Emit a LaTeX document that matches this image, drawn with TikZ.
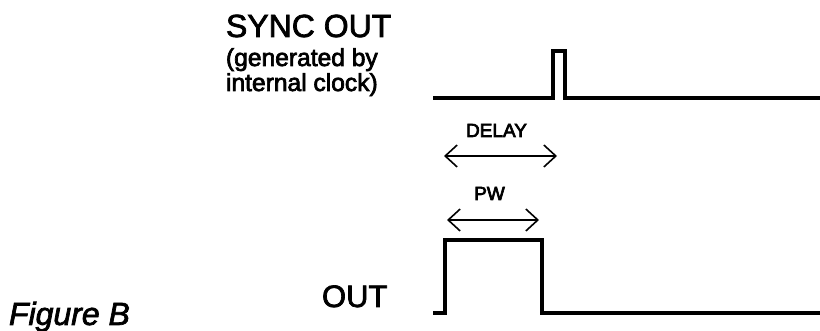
\documentclass[tikz,border=0pt]{standalone}
\usepackage{fontspec}
\setmainfont{Liberation Sans}
\usetikzlibrary{arrows.meta}
\newcommand\heavytxt[1]{\special{pdf:literal 2 Tr 0.7 w}#1\special{pdf:literal 0 Tr}}
\tikzset{
  lbl/.style={inner sep=0pt, outer sep=0pt, text=black},
  wave/.style={line width=3.5pt, line join=miter, line cap=butt},
  dim/.style={line width=1.6pt, {Straight Barb[length=12pt,width=22pt,line width=1.6pt]}-{Straight Barb[length=12pt,width=22pt,line width=1.6pt]}}
}
\begin{document}
\begin{tikzpicture}[x=1pt,y=-1pt]
\useasboundingbox (0,0) rectangle (820,331);
% labels
\node[lbl, anchor=base west, font=\fontsize{32}{36}\selectfont] (sync) at (226,37) {\heavytxt{SYNC OUT}};
\node[lbl, anchor=base west, font=\fontsize{24.6}{28}\selectfont] (gen1) at (226,66) {\heavytxt{(generated by}};
\node[lbl, anchor=base west, font=\fontsize{24.6}{28}\selectfont] (gen2) at (226,91) {\heavytxt{internal clock)}};
\node[lbl, anchor=base west, font=\fontsize{31}{36}\selectfont] (out) at (322,307) {\heavytxt{OUT}};
\node[lbl, anchor=base west, font=\fontsize{32}{36}\selectfont\itshape] (fig) at (9,325) {\heavytxt{Figure B}};
\node[lbl, anchor=base, font=\fontsize{19}{22}\selectfont] (delay) at (496.5,137) {\heavytxt{DELAY}};
\node[lbl, anchor=base, font=\fontsize{19}{22}\selectfont] (pw) at (489.5,200) {\heavytxt{PW}};
% sync waveform
\coordinate (s0) at (433,98);
\coordinate (s1) at (820,98);
\draw[wave] (s0) -- (553,98) -- (553,51) -- (565,51) -- (565,98) -- (s1);
% out waveform
\coordinate (o0) at (433,313);
\coordinate (o1) at (820,313);
\draw[wave] (o0) -- (445,313) -- (445,240) -- (542,240) -- (542,313) -- (o1);
% dimension arrows
\coordinate (da) at (444,156);
\coordinate (db) at (557,156);
\draw[dim] (da) -- (db);
\coordinate (pa) at (447,220);
\coordinate (pb) at (539,220);
\draw[dim] (pa) -- (pb);
\end{tikzpicture}
\end{document}
